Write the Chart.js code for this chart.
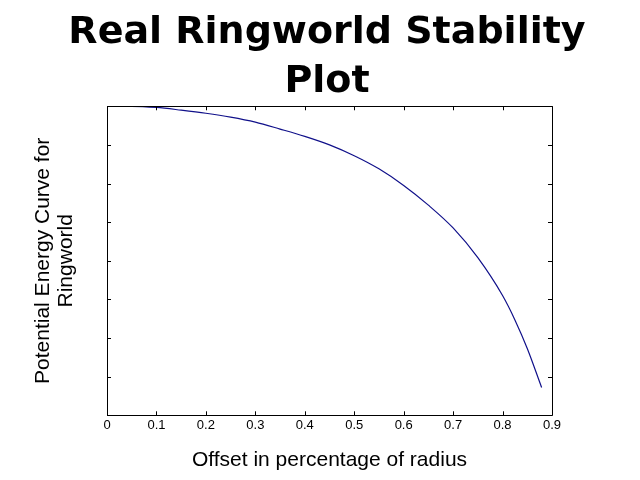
<!DOCTYPE html>
<html>
<head>
<meta charset="utf-8">
<script src="https://cdn.jsdelivr.net/npm/chart.js@4"></script>
<style>
  html, body { margin: 0; padding: 0; background: #fff; }
  #wrap { width: 640px; height: 480px; }
</style>
</head>
<body>
<div id="wrap"><canvas id="plot" width="640" height="480"></canvas></div>
<script>
// offset (fraction of radius) and potential energy
var offsets = [0, 0.05, 0.1, 0.15, 0.2, 0.25, 0.3, 0.35, 0.4, 0.45, 0.5, 0.55, 0.6, 0.65, 0.7, 0.75, 0.8, 0.825, 0.85, 0.879];
var energy = [0, 0, -0.03, -0.10, -0.18, -0.28, -0.41, -0.59, -0.78, -1.00, -1.28, -1.62, -2.05, -2.56, -3.15, -3.92, -4.90, -5.53, -6.27, -7.28];
var xTicks = [0, 0.1, 0.2, 0.3, 0.4, 0.5, 0.6, 0.7, 0.8, 0.9];

var points = offsets.map(function (x, i) { return { x: x, y: energy[i] }; });

// black box with small inward ticks on all four sides (matlab style)
var boxTicks = {
    id: "boxTicks",
    afterDraw: function (chart) {
        var c = chart.ctx, a = chart.chartArea;
        var xs = chart.scales.x, ys = chart.scales.y;
        var len = 4;
        c.save();
        c.strokeStyle = "#000";
        c.lineWidth = 1;
        c.beginPath();
        c.rect(Math.round(a.left) + 0.5, Math.round(a.top) + 0.5,
               Math.round(a.right - a.left), Math.round(a.bottom - a.top));
        xs.ticks.forEach(function (t) {
            var px = Math.round(xs.getPixelForValue(t.value)) + 0.5;
            c.moveTo(px, a.bottom); c.lineTo(px, a.bottom - len);
            c.moveTo(px, a.top); c.lineTo(px, a.top + len);
        });
        ys.ticks.forEach(function (t) {
            var py = Math.round(ys.getPixelForValue(t.value)) + 0.5;
            c.moveTo(a.left, py); c.lineTo(a.left + len, py);
            c.moveTo(a.right, py); c.lineTo(a.right - len, py);
        });
        c.stroke();
        c.restore();
    }
};

var ctx = document.getElementById("plot");

new Chart(ctx, {
    type: "line",
    data: {
        datasets: [{
            data: points,
            borderColor: "#10108a",
            borderWidth: 1.2,
            pointRadius: 0,
            fill: false,
            cubicInterpolationMode: "monotone"
        }]
    },
    options: {
        responsive: false,
        animation: false,
        layout: { padding: { left: 14, right: 0, top: 0, bottom: 8 } },
        plugins: {
            legend: { display: false },
            tooltip: { enabled: false },
            title: {
                display: true,
                text: ["Real Ringworld Stability", "Plot"],
                color: "#000",
                font: { family: "DejaVu Sans", size: 38, weight: "bold", lineHeight: 1.28 },
                padding: { top: 9, bottom: 0 }
            }
        },
        scales: {
            x: {
                type: "linear",
                min: 0,
                max: 0.9,
                afterBuildTicks: function (s) { s.ticks = xTicks.map(function (v) { return { value: v }; }); },
                ticks: {
                    color: "#000",
                    padding: 2,
                    maxRotation: 0,
                    font: { family: "Liberation Sans", size: 13 },
                    callback: function (v) { return String(+v.toFixed(1)); }
                },
                grid: { display: false, drawTicks: false },
                border: { display: false },
                title: {
                    display: true,
                    text: "Offset in percentage of radius",
                    color: "#000",
                    font: { family: "Liberation Sans", size: 21, lineHeight: 1.1 },
                    padding: { top: 14, bottom: 0 }
                }
            },
            y: {
                min: -8,
                max: 0,
                ticks: { stepSize: 1, display: false },
                grid: { display: false, drawTicks: false },
                border: { display: false },
                afterFit: function (s) { s.width = 93; },
                title: {
                    display: true,
                    text: ["Potential Energy Curve for", "Ringworld"],
                    color: "#000",
                    font: { family: "Liberation Sans", size: 21, lineHeight: 1.1 },
                    padding: { top: 18, bottom: 0 }
                }
            },
            // empty right-hand axis, only reserves the margin right of the box
            yRight: {
                position: "right",
                display: true,
                min: -8,
                max: 0,
                ticks: { display: false },
                grid: { display: false, drawTicks: false },
                border: { display: false },
                afterFit: function (s) { s.width = 88; }
            }
        }
    },
    plugins: [boxTicks]
});
</script>
</body>
</html>
